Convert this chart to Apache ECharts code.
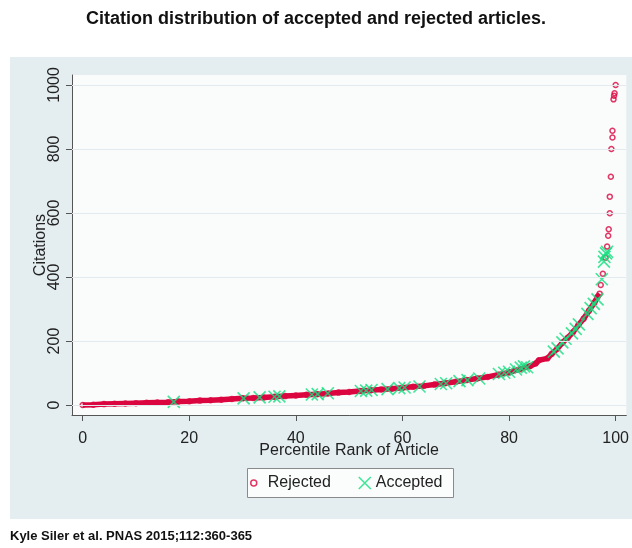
<!DOCTYPE html>
<html>
<head>
<meta charset="utf-8">
<script src="https://cdn.jsdelivr.net/npm/echarts@6/dist/echarts.min.js"></script>
<style>
html,body{margin:0;padding:0;background:#ffffff;}
#chart{width:632px;height:548px;}
</style>
</head>
<body>
<div id="chart"></div>
<script>
// Rejected articles: dense part of the curve (percentile, citations)
var rejectedCurve = [
  [0,0],[2,1],[4,3],[6,4],[8,5],[10,6],[12,7],[14,8],[16,9],[18,11],
  [20,12],[22,14],[24,15],[26,17],[28,19],[30,21],[32,22],[34,24],[36,26],[38,28],
  [40,30],[42,32],[44,34],[46,36],[48,39],[50,41],[52,44],[54,46],[56,49],[58,51],
  [60,54],[62,57],[64,60],[66,64],[68,68],[70,73],[72,78],[74,83],[76,88],[78,95],
  [80,102],[82,112],[84,122],[85,130],[85.6,140],[87.2,146],[88,160],[89,175],[90,195],[91,210],
  [92,228],[93,250],[94,270],[95,295],[96,320],[96.6,338],[97,348]
];
// Rejected articles: sparse top points
var rejectedTop = [
  [97.2,375],[97.6,410],[98.1,460],[98.4,495],[98.6,529],[98.7,549],[98.9,599],[98.9,651],
  [99.1,713],[99.2,800],[99.4,836],[99.4,857],[99.6,955],[99.7,966],[99.8,974],[100,1000]
];
// Accepted articles (percentile, citations)
var accepted = [
  [17.1,10],[30.2,21],[33.2,24],[36,26],[36.9,27],[43,33],[44.1,34],[46,37],
  [52.2,44],[53.2,45],[54.2,47],[57.2,50],[59.4,53],[60.4,55],[63.2,58],[67.2,66],
  [68.2,68],[70.7,75],[72.2,78],[74.4,83],[78.1,97],[79.1,101],[80,104],[81.3,111],
  [82.2,117],[82.8,121],[83.4,118],[88.4,167],[89.1,177],[90,196],[90.6,207],[91.8,224],
  [92.5,238],[93.1,252],[94.7,285],[95.3,303],[95.9,316],[96.6,330],[97.4,393],[97.8,448],
  [97.9,463],[98.2,474],[98.4,479]
];
var xTicks = [0,20,40,60,80,100];
var yTicks = [0,200,400,600,800,1000];

var RED = '#db0640';
var GREEN = '#14e07f';
var FONT = '"Liberation Sans", Arial, sans-serif';
var XPATH = 'path://M0,0L10,10M10,0L0,10';

var chart = echarts.init(document.getElementById('chart'), null, {renderer:'canvas'});
chart.setOption({
  backgroundColor: '#ffffff',
  animation: false,
  textStyle: {fontFamily: FONT},
  title: {
    text: 'Citation distribution of accepted and rejected articles.',
    left: 'center', top: 5,
    textStyle: {fontFamily: FONT, fontSize: 18, fontWeight: 'bold', color: '#111'}
  },
  graphic: [
    {type:'rect', z:-10, silent:true, shape:{x:10, y:57, width:622, height:462}, style:{fill:'#e4eef0'}},
    {type:'rect', z:-5, silent:true, shape:{x:247.5, y:468.5, width:206, height:29}, style:{fill:'#fbfcfc', stroke:'#8a8a8a', lineWidth:1}},
    {type:'text', left:10, top:530, silent:true, style:{text:'Kyle Siler et al. PNAS 2015;112:360-365', font:'bold 13px "Liberation Sans", Arial, sans-serif', fill:'#111'}}
  ],
  grid: {left:72, top:75, right:5, bottom:133, show:true, backgroundColor:'#fafbfb', borderWidth:0},
  xAxis: {
    type:'value', min:-2, max:102,
    name:'Percentile Rank of Article', nameLocation:'middle', nameGap:28, nameMoveOverlap:false,
    nameTextStyle:{fontFamily:FONT, fontSize:16, color:'#222'},
    axisLine:{show:true, onZero:false, lineStyle:{color:'#555', width:1}},
    axisTick:{show:true, length:6, customValues:xTicks, lineStyle:{color:'#555'}},
    axisLabel:{customValues:xTicks, fontSize:16, color:'#222', margin:16, fontFamily:FONT},
    splitLine:{show:false}
  },
  yAxis: {
    type:'value', min:-31, max:1031,
    name:'Citations', nameLocation:'middle', nameGap:23, nameMoveOverlap:false,
    nameTextStyle:{fontFamily:FONT, fontSize:16, color:'#222'},
    axisLine:{show:true, onZero:false, lineStyle:{color:'#555', width:1}},
    axisTick:{show:true, length:6, customValues:yTicks, lineStyle:{color:'#555'}},
    axisLabel:{customValues:yTicks, fontSize:16, color:'#222', margin:9, rotate:90, fontFamily:FONT,
      formatter:function(v){return String(v);}},
    splitLine:{show:false}
  },
  legend: [
    {
      left:250, top:475, padding:0, itemWidth:14, itemHeight:6,
      textStyle:{fontFamily:FONT, fontSize:16, color:'#222', padding:[0,0,0,2]},
      data:[{name:'Rejected', icon:'circle', itemStyle:{color:'rgba(0,0,0,0)', borderColor:RED, borderWidth:1.5}}]
    },
    {
      left:358, top:475, padding:0, itemWidth:12, itemHeight:12,
      textStyle:{fontFamily:FONT, fontSize:16, color:'#222'},
      data:[{name:'Accepted', icon:XPATH, itemStyle:{color:'rgba(0,0,0,0)', borderColor:GREEN, borderWidth:1.6}}]
    }
  ],
  series: [
    {
      name:'gridlines', type:'line', data:[], silent:true, z:0,
      markLine:{silent:true, symbol:'none', label:{show:false},
        lineStyle:{color:'#e3eaed', width:1, type:'solid'},
        data: yTicks.map(function(v){return {yAxis:v};})}
    },
    {
      name:'rejectedLine', type:'line', data:rejectedCurve, showSymbol:false, silent:true, z:1,
      lineStyle:{color:RED, width:5.5}, itemStyle:{color:RED}
    },
    {
      name:'Rejected', type:'scatter', data:rejectedCurve.concat(rejectedTop), z:2,
      symbol:'circle', symbolSize:5,
      itemStyle:{color:'rgba(0,0,0,0)', borderColor:RED, borderWidth:1.5}
    },
    {
      name:'Accepted', type:'scatter', data:accepted, z:3,
      symbol:XPATH, symbolSize:12,
      itemStyle:{color:'rgba(0,0,0,0)', borderColor:GREEN, borderWidth:1.6}
    }
  ]
});
</script>
</body>
</html>
